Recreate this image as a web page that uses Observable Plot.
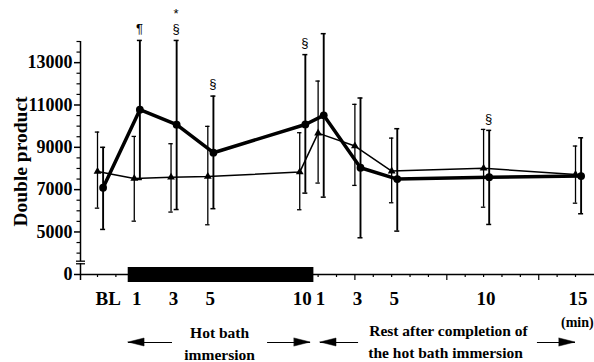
<!DOCTYPE html>
<html>
<head>
<meta charset="utf-8">
<script src="https://cdn.jsdelivr.net/npm/d3@7"></script>
<script src="https://cdn.jsdelivr.net/npm/@observablehq/plot@0.6"></script>
<style>
  html, body { margin: 0; padding: 0; background: #fff; }
</style>
</head>
<body>
<div id="chart"></div>
<script>
// ---- data ----
const time = [-1, 1, 3, 5, 10, 11, 13, 15, 20, 25];          // BL, immersion min 1..10, rest min 1..15 (rest t -> 10+t)
const tickLabels = ["BL", "1", "3", "5", "10", "1", "3", "5", "10", "15"];
const tickLabelPos = [-0.55, 1, 3, 5, 10, 11, 13, 15, 20, 25];

// thin line with triangles
const triMean = [7860, 7530, 7590, 7620, 7830, 9670, 9060, 7875, 8010, 7720];
const triHi   = [9720, 9515, 9170, 9990, 9690, 12130, 11030, 9435, 9846, 9060];
const triLo   = [6125, 5510, 5940, 5340, 6050, 7310, 7200, 6380, 6170, 6360];

// thick line with circles
const cirMean = [7090, 10780, 10070, 8745, 10080, 10510, 8035, 7500, 7590, 7640];
const cirHi   = [9000, 14050, 14050, 11420, 13380, 14370, 11330, 9880, 9800, 9450];
const cirLo   = [5120, 7480, 6060, 6100, 6835, 6645, 4725, 5040, 5355, 5860];

// significance symbols (attached to the circle series)
const sigIndex = [1, 2, 2, 3, 4, 8];
const sigText  = ["¶", "§", "*", "§", "§", "§"];
const sigLevel = [0, 0, 1, 0, 0, 0];

// y axis
const yMajor = [5000, 7000, 9000, 11000, 13000];
const yMinor = [4000, 4500, 5500, 6000, 6500, 7500, 8000, 8500, 9500, 10000, 10500, 11500, 12000, 12500, 13500, 14000];
const yZero = 2990;               // position where the broken axis shows "0"
const yBreak = [3497, 3619];

// x axis ticks
const xTicks = d3.range(-1, 26);
const xLongTicks = [13, 18, 23];

// immersion bar
const immersionStart = 0.67, immersionEnd = 10.77;

// annotations
const arrows = [{tip: 0.69, tail: 3.08}, {tip: 10.59, tail: 8.25}, {tip: 11.13, tail: 13.2}, {tip: 25.0, tail: 22.93}];
const notes = [
  {x: 5.64, off: 58.5, text: "Hot bath", size: 15.5},
  {x: 5.64, off: 80.5, text: "immersion", size: 15.5},
  {x: 18.09, off: 56.5, text: "Rest after completion of", size: 15.5},
  {x: 17.93, off: 79, text: "the hot bath immersion", size: 15.5},
  {x: 25.1, off: 48.5, text: "(min)", size: 14}
];

// ---- layout ----
const W = 594, H = 362, mL = 80, mR = 0, mT = 41, mB = 88;
const xDom = [-1.925, 26.033], yDom = [yZero, 14000];
const PXX = (W - mL - mR) / (xDom[1] - xDom[0]);
const PXY = (H - mT - mB) / (yDom[1] - yDom[0]);
const X0 = xDom[0];
const OFF = 5.6;   // horizontal offset of circle series
const serif = "'Liberation Serif', 'Times New Roman', serif";
const sans = "'Liberation Sans', Arial, sans-serif";

const tri = time.map((t, i) => ({t, mean: triMean[i], lo: triLo[i], hi: triHi[i]}));
const cir = time.map((t, i) => ({t, mean: cirMean[i], lo: cirLo[i], hi: cirHi[i]}));
const caps = rows => rows.flatMap(d => [{t: d.t, v: d.lo}, {t: d.t, v: d.hi}]);
const sig = sigIndex.map((i, k) => ({t: time[i], v: cirHi[i] + (12 + sigLevel[k] * 15) / PXY, text: sigText[k]}));
const noteRows = notes.map(d => ({...d, y: yZero - d.off / PXY}));

const arrowY = yZero - 68 / PXY;
const HL = 16 / PXX, HH = 4 / PXY;
const heads = arrows.flatMap((a, k) => {
  const dir = Math.sign(a.tip - a.tail);
  const pts = [
    {k, x: a.tip - dir * HL, y1: arrowY - HH, y2: arrowY + HH},
    {k, x: a.tip, y1: arrowY, y2: arrowY}
  ];
  return pts.sort((p, q) => p.x - q.x);
});

const plot = Plot.plot({
  width: W, height: H,
  marginLeft: mL, marginRight: mR, marginTop: mT, marginBottom: mB,
  x: {domain: xDom, axis: null},
  y: {domain: yDom, axis: null},
  style: {background: "#fff", fontFamily: serif},
  marks: [
    // axes
    Plot.ruleX([X0], {y1: yZero - 6 / PXY, y2: 14000, stroke: "black", strokeWidth: 1.5}),
    Plot.ruleX([X0], {y1: yBreak[0] + 0.3 / PXY, y2: yBreak[1] - 0.3 / PXY, stroke: "white", strokeWidth: 3}),
    Plot.ruleY(yBreak, {x1: X0 - 4 / PXX, x2: X0 + 5 / PXX, stroke: "black", strokeWidth: 1.3}),
    Plot.ruleY([...yMajor, yZero], {x1: X0 - 6 / PXX, x2: X0, stroke: "black", strokeWidth: 1.5}),
    Plot.ruleY(yMinor, {x1: X0 - 3.5 / PXX, x2: X0, stroke: "black", strokeWidth: 1.2}),
    Plot.text([...yMajor, yZero], {x: X0, y: d => d, text: d => d === yZero ? "0" : String(d), dx: -8, textAnchor: "end",
      fontSize: 18, fontWeight: "bold", fontFamily: serif, fill: "black"}),
    Plot.text(["Double product"], {frameAnchor: "left", textAnchor: "middle", dx: -60, dy: 3.5, rotate: -90, fontSize: 19.5,
      fontWeight: "bold", fontFamily: serif, fill: "black"}),
    Plot.ruleY([yZero], {x1: X0, x2: xDom[1], stroke: "black", strokeWidth: 1.5}),
    Plot.ruleX(xTicks, {x: d => d, y1: yZero, y2: d => yZero - (xLongTicks.includes(d) ? 6 : 3) / PXY, stroke: "black", strokeWidth: 1.2}),
    Plot.ruleY([yZero], {x1: immersionStart, x2: immersionEnd, stroke: "black", strokeWidth: 15}),
    Plot.text(tickLabelPos, {x: d => d, frameAnchor: "bottom", dy: 30, dx: 2.5, text: (d, i) => tickLabels[i],
      fontSize: 19, fontWeight: "bold", fontFamily: serif, fill: "black"}),

    // error bars
    Plot.ruleX(tri, {x: "t", y1: "lo", y2: "hi", stroke: "black", strokeWidth: 1.3}),
    Plot.ruleY(caps(tri), {y: "v", x1: d => d.t - 2.2 / PXX, x2: d => d.t + 2.2 / PXX, stroke: "black", strokeWidth: 1.3}),
    Plot.ruleX(cir, {x: "t", y1: "lo", y2: "hi", dx: OFF, stroke: "black", strokeWidth: 1.9}),
    Plot.ruleY(caps(cir), {y: "v", x1: d => d.t - 2.5 / PXX, x2: d => d.t + 2.5 / PXX, dx: OFF, stroke: "black", strokeWidth: 1.5}),

    // series
    Plot.line(tri, {x: "t", y: "mean", stroke: "black", strokeWidth: 1.5}),
    Plot.line(cir, {x: "t", y: "mean", dx: OFF, stroke: "black", strokeWidth: 3.5}),
    Plot.dot(tri, {x: "t", y: "mean", symbol: "triangle", r: 2.9, fill: "black", stroke: "none"}),
    Plot.dot(cir, {x: "t", y: "mean", dx: OFF, r: 3.9, fill: "black", stroke: "none"}),

    // significance marks
    Plot.text(sig, {x: "t", y: "v", text: "text", dx: OFF - 0.5, fontSize: 13, fontFamily: sans, fill: "black"}),

    // bottom annotations
    Plot.text(noteRows, {x: "x", y: "y", text: "text", fontSize: d => d.size,
      fontWeight: "bold", fontFamily: serif, fill: "black"}),
    Plot.ruleY(arrows, {y: arrowY, x1: "tail", x2: "tip", stroke: "black", strokeWidth: 1}),
    Plot.areaY(heads, {x: "x", y1: "y1", y2: "y2", z: "k", fill: "black", stroke: "black", strokeWidth: 0.5})
  ]
});

document.getElementById("chart").append(plot);
</script>
</body>
</html>
